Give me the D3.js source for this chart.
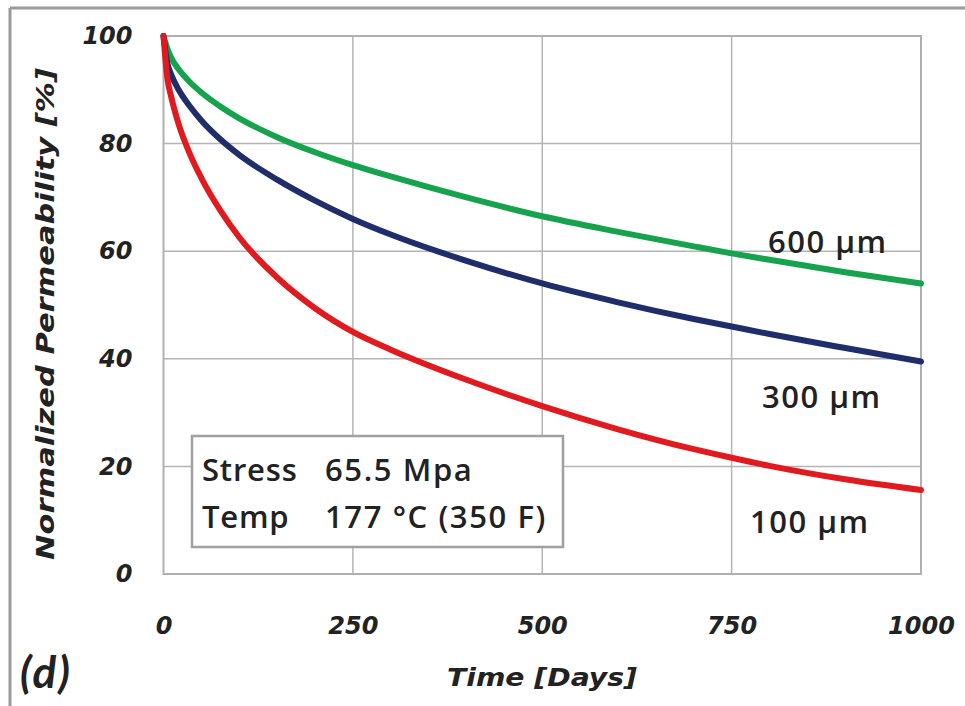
<!DOCTYPE html>
<html>
<head>
<meta charset="utf-8">
<script src="https://cdn.jsdelivr.net/npm/d3@7"></script>
<style>
  html, body { margin: 0; padding: 0; background: #ffffff; }
  svg { display: block; }
</style>
</head>
<body>
<svg id="chart" width="965" height="706"></svg>
<script>
// ---- Data ----
const days = [0, 5, 10, 20, 35, 50, 75, 100, 150, 200, 250, 300, 400, 500, 600, 700, 750, 800, 900, 1000];
const series600 = [100, 97.7, 96.0, 93.8, 91.4, 89.5, 86.9, 84.7, 81.2, 78.4, 76.0, 73.9, 70.0, 66.5, 63.6, 60.9, 59.6, 58.4, 56.1, 54.0];
const series300 = [100, 95.0, 92.9, 90.0, 86.9, 84.3, 80.8, 77.9, 73.3, 69.4, 66.0, 63.1, 58.2, 54.0, 50.5, 47.4, 46.0, 44.6, 42.0, 39.5];
const series100 = [100, 92.2, 88.8, 83.6, 78.0, 73.6, 67.6, 62.6, 55.1, 49.4, 45.0, 41.7, 36.1, 31.2, 26.9, 23.2, 21.6, 20.1, 17.6, 15.6];
const seriesNames = ["600 µm", "300 µm", "100 µm"];
const xTicks = [0, 250, 500, 750, 1000];
const yTicks = [0, 20, 40, 60, 80, 100];
const xTitle = "Time [Days]";
const yTitle = "Normalized Permeability [%]";
const panelLabel = "(d)";
const infoRows = [["Stress", "65.5 Mpa"], ["Temp", "177 °C (350 F)"]];

// ---- Layout ----
const svg = d3.select("#chart");
const plot = { left: 163.5, right: 921, top: 36, bottom: 574 };
const x = d3.scaleLinear().domain([0, 1000]).range([plot.left, plot.right]);
const y = d3.scaleLinear().domain([0, 100]).range([plot.bottom, plot.top]);

// outer frame (top and left edges)
svg.append("line").attr("x1", 10).attr("x2", 965).attr("y1", 8).attr("y2", 8)
  .attr("stroke", "#9a9a9a").attr("stroke-width", 3);
svg.append("line").attr("x1", 10).attr("x2", 10).attr("y1", 8).attr("y2", 706)
  .attr("stroke", "#9a9a9a").attr("stroke-width", 3);

// gridlines
const grid = svg.append("g");
grid.selectAll(".hg").data(yTicks.filter(d => d > 0 && d < 100)).join("line")
  .attr("x1", plot.left).attr("x2", plot.right)
  .attr("y1", d => y(d)).attr("y2", d => y(d))
  .attr("stroke", "#b4b4b4").attr("stroke-width", 1.5);
grid.selectAll(".vg").data(xTicks.filter(d => d > 0 && d < 1000)).join("line")
  .attr("y1", plot.top).attr("y2", plot.bottom)
  .attr("x1", d => x(d)).attr("x2", d => x(d))
  .attr("stroke", "#b4b4b4").attr("stroke-width", 1.5);
svg.append("rect").attr("x", plot.left).attr("y", plot.top)
  .attr("width", plot.right - plot.left).attr("height", plot.bottom - plot.top)
  .attr("fill", "none").attr("stroke", "#b0b0b0").attr("stroke-width", 2);

// axes (labels only)
const tickFont = "'DejaVu Sans', Verdana, sans-serif";
const yAxis = d3.axisLeft(y).tickValues(yTicks).tickFormat(d3.format("d")).tickSize(0).tickPadding(31);
const gy = svg.append("g").attr("transform", `translate(${plot.left},0)`).call(yAxis);
gy.select(".domain").remove();
gy.selectAll("text").attr("font-family", tickFont).attr("font-size", 24)
  .attr("font-weight", "bold").attr("font-style", "italic").attr("fill", "#222");

const xAxis = d3.axisBottom(x).tickValues(xTicks).tickFormat(d3.format("d")).tickSize(0).tickPadding(43);
const gx = svg.append("g").attr("transform", `translate(0,${plot.bottom})`).call(xAxis);
gx.select(".domain").remove();
gx.selectAll("text").attr("font-family", tickFont).attr("font-size", 24)
  .attr("font-weight", "bold").attr("font-style", "italic").attr("fill", "#222");

// axis titles
svg.append("text").attr("x", 542).attr("y", 686).attr("text-anchor", "middle")
  .attr("font-family", tickFont).attr("font-size", 25).attr("font-weight", "bold")
  .attr("font-style", "italic").attr("fill", "#222")
  .attr("textLength", 190).attr("lengthAdjust", "spacingAndGlyphs").text(xTitle);
svg.append("text").attr("transform", "translate(54,314) rotate(-90)").attr("text-anchor", "middle")
  .attr("font-family", tickFont).attr("font-size", 25).attr("font-weight", "bold")
  .attr("font-style", "italic").attr("fill", "#222")
  .attr("textLength", 492).attr("lengthAdjust", "spacingAndGlyphs").text(yTitle);

svg.append("text").attr("x", 20).attr("y", 688)
  .attr("font-family", "Lato, 'Open Sans', sans-serif").attr("font-size", 44).attr("font-weight", "bold")
  .attr("font-style", "italic").attr("letter-spacing", 2).attr("fill", "#222").text(panelLabel);

// curves
const line = d3.line().x((d, i) => x(days[i])).y(d => y(d)).curve(d3.curveMonotoneX);
const colors = ["#17a34d", "#1f2d6a", "#e01a1f"];
[series600, series300, series100].forEach((s, i) => {
  svg.append("path").datum(s).attr("d", line).attr("fill", "none")
    .attr("stroke", colors[i]).attr("stroke-width", 6).attr("stroke-linecap", "round");
});

// series labels
const labelFont = "'Open Sans', Lato, sans-serif";
const labelPos = [[768, 253], [762, 408], [750, 533]];
seriesNames.forEach((n, i) => {
  svg.append("text").attr("x", labelPos[i][0]).attr("y", labelPos[i][1])
    .attr("font-family", labelFont).attr("font-size", 31).attr("font-weight", 600)
    .attr("letter-spacing", 1.5).attr("fill", "#222").text(n);
});

// info box
svg.append("rect").attr("x", 192).attr("y", 436).attr("width", 371).attr("height", 111)
  .attr("fill", "#ffffff").attr("stroke", "#a0a0a0").attr("stroke-width", 2.5);
infoRows.forEach((r, i) => {
  const by = 481 + i * 47;
  svg.append("text").attr("x", 202).attr("y", by).attr("font-family", labelFont)
    .attr("font-size", 31).attr("font-weight", 600).attr("letter-spacing", 0.8)
    .attr("fill", "#222").text(r[0]);
  svg.append("text").attr("x", 325).attr("y", by).attr("font-family", labelFont)
    .attr("font-size", 31).attr("font-weight", 600).attr("letter-spacing", 1.6)
    .attr("fill", "#222").text(r[1]);
});
</script>
</body>
</html>
